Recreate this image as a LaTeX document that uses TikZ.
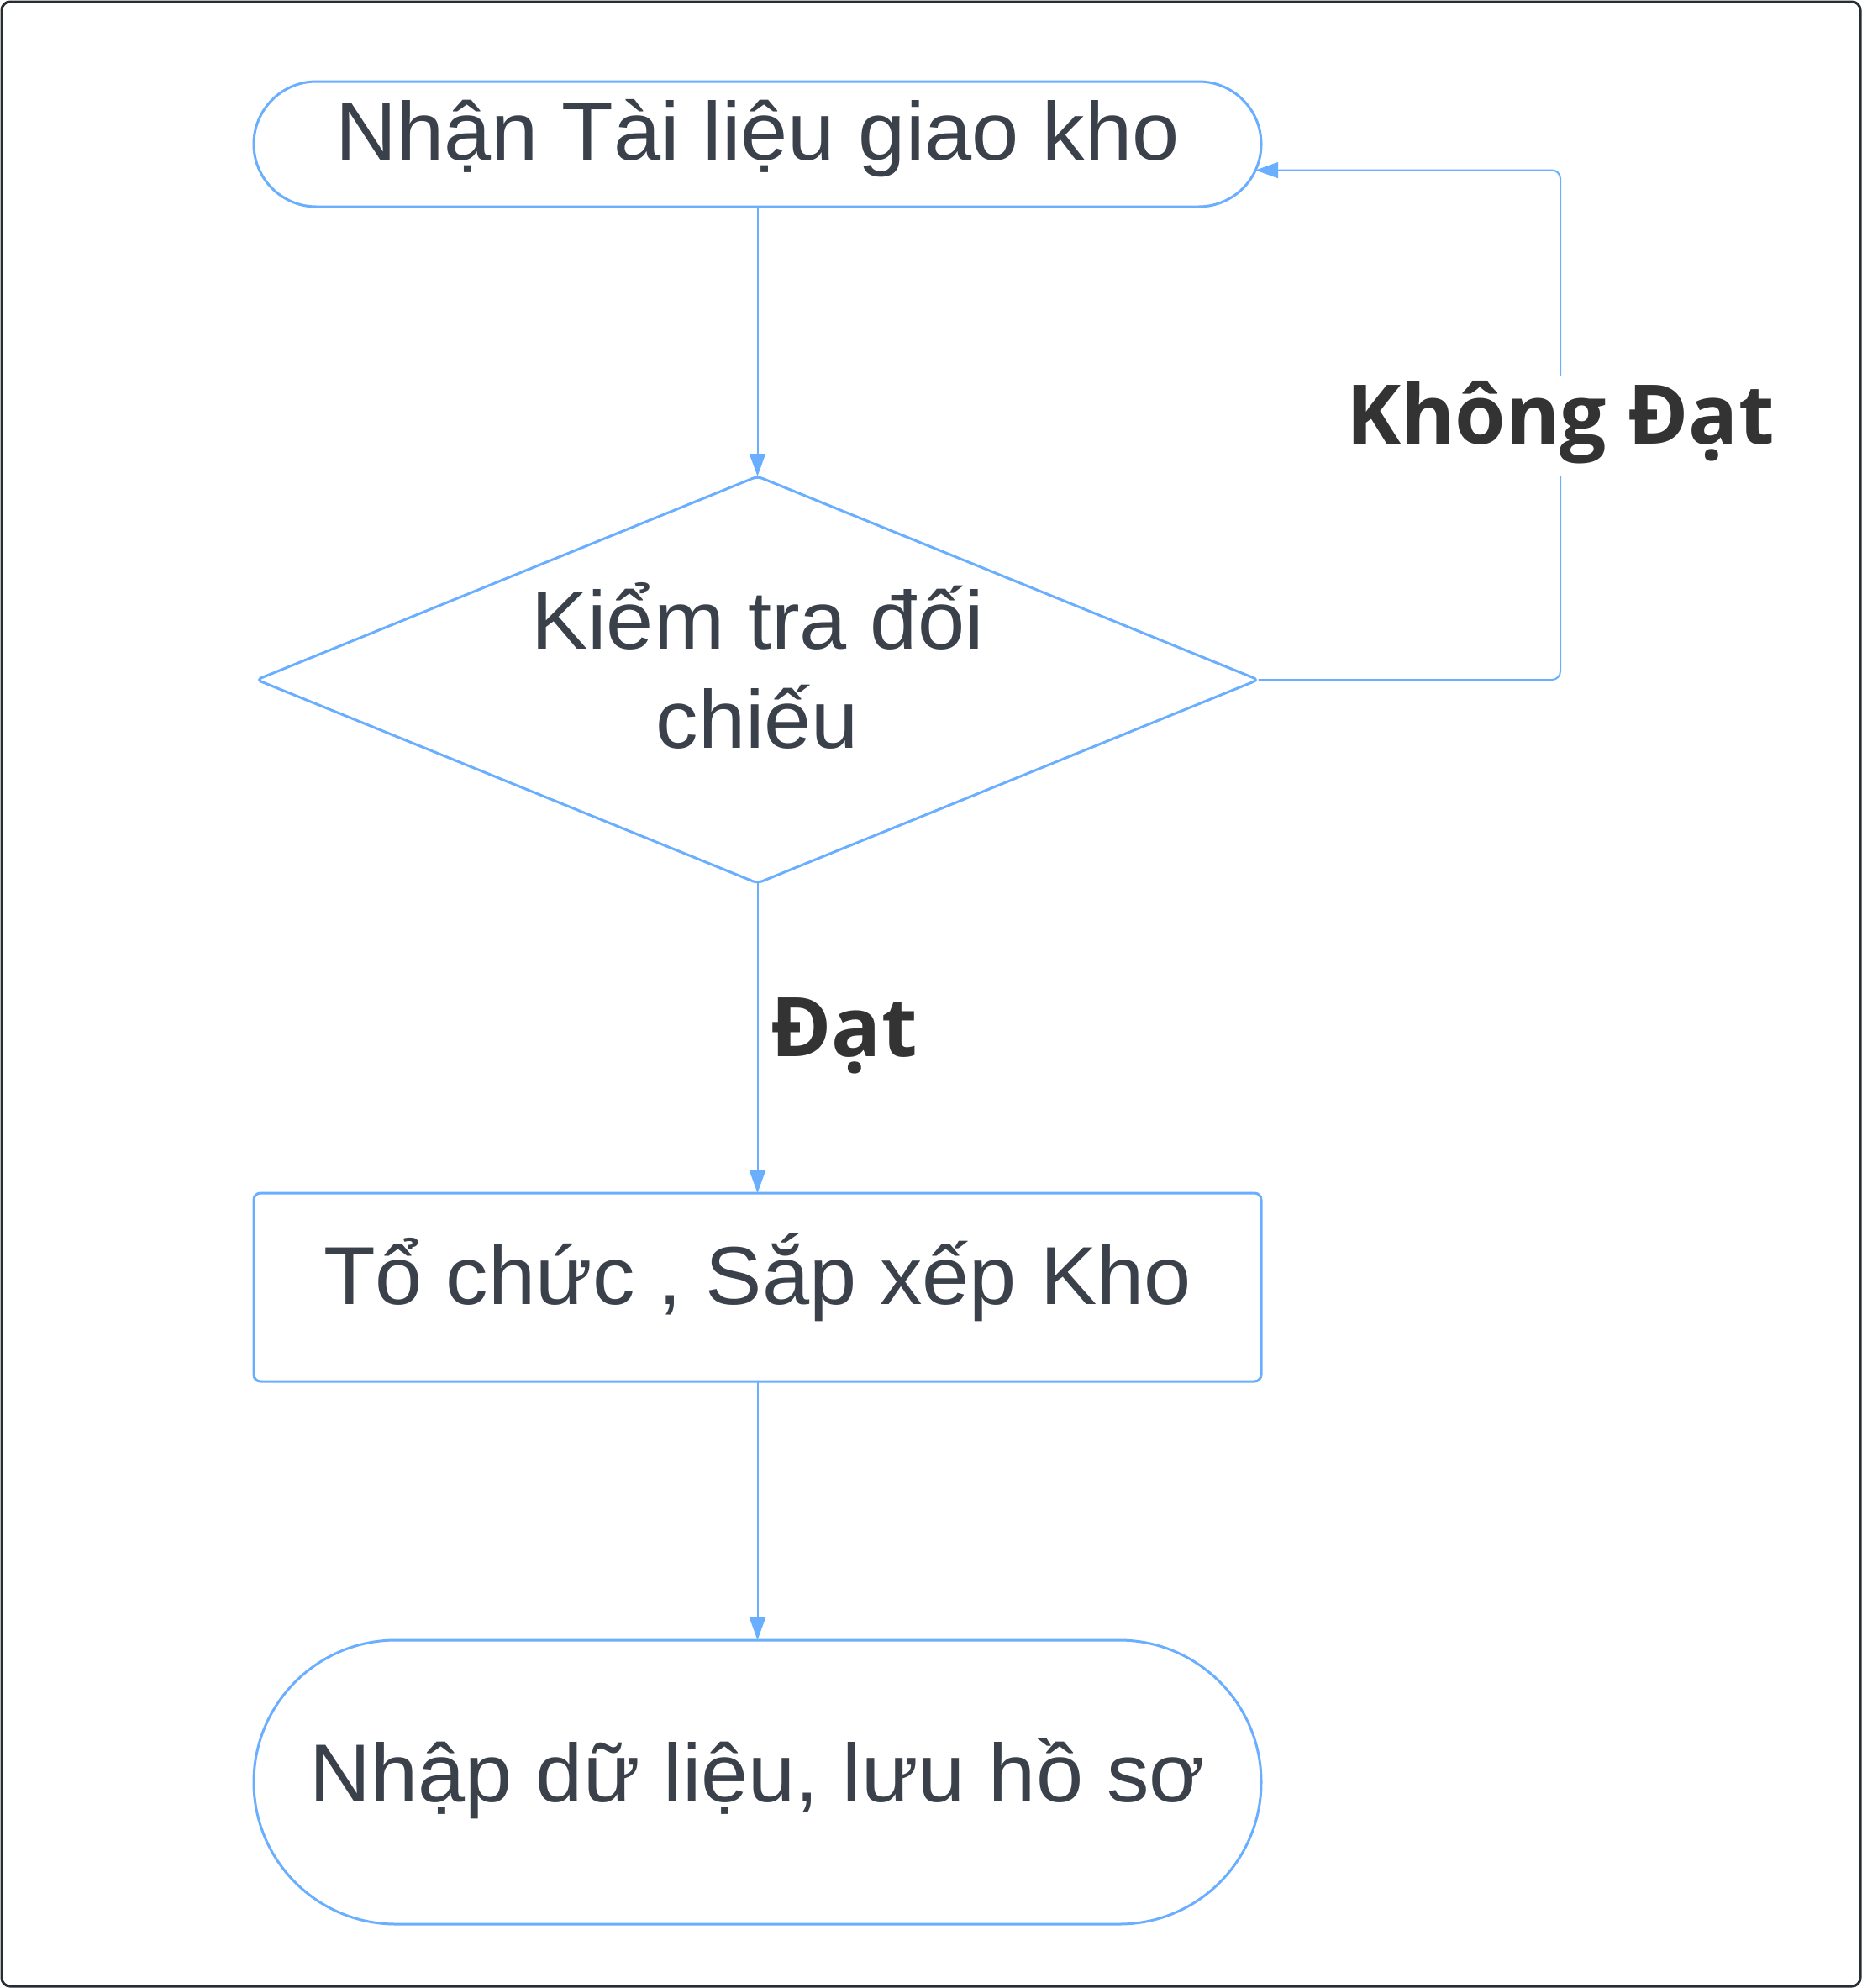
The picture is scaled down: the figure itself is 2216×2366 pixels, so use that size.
\documentclass[tikz,border=0pt]{standalone}
\usepackage{fontspec}
\setmainfont[FakeStretch=1.03]{Liberation Sans}
\newfontfamily\lblfont{Open Sans}
\usetikzlibrary{shapes.geometric,shapes.misc,arrows.meta}
\definecolor{edgeclr}{HTML}{6AAEFF}
\definecolor{txtclr}{HTML}{3A414A}
\definecolor{lblclr}{HTML}{333333}
\definecolor{frameclr}{HTML}{282C33}
\begin{document}
\begin{tikzpicture}[x=0.5pt,y=-0.5pt,
  shapebox/.style={draw=edgeclr,line width=1.5pt,fill=white,text=txtclr,font=\fontsize{49}{58.75}\selectfont,inner sep=0pt,outer sep=0pt,minimum width=599.5pt},
  term/.style={shapebox,rounded rectangle},
  proc/.style={shapebox,rectangle,rounded corners=4pt},
  decis/.style={shapebox,diamond,rounded corners=3pt,minimum width=596pt,minimum height=242pt},
  dtext/.style={text=txtclr,font=\fontsize{49}{58.75}\selectfont,inner sep=0pt,align=center},
  conn/.style={draw=edgeclr,line width=1pt,-{Triangle[length=13.5pt,width=9.5pt]}},
  elabel/.style={text=lblclr,font=\lblfont\bfseries\fontsize{49}{58}\selectfont,inner sep=0pt}
]
\useasboundingbox (0,0) rectangle (2216,2366);
\draw[frameclr,line width=1.5pt,rounded corners=5pt] (2,2) rectangle (2214,2364);

\node[term,minimum height=74.5pt,text height=30pt,text depth=11.5pt] (n1) at (901.5,171.5) {Nhận Tài liệu giao kho};
\node[decis] (d) at (901.5,809) {};
\node[dtext] (dt) at (901.5,792.5) {Kiểm tra đối\\chiếu};
\node[proc,minimum height=112pt,text height=35pt,text depth=15pt] (p) at (901.5,1532) {Tổ chức , Sắp xếp Kho};
\node[term,minimum height=169pt,text height=35pt,text depth=12pt] (n2) at (901.5,2121) {Nhập dữ liệu, lưu hồ sơ};

\draw[conn] (n1.south) -- (d.north);
\draw[conn] (d.south) -- (p.north);
\draw[conn] (p.south) -- (n2.north);
\coordinate (lp) at (1857,809);
\draw[conn,rounded corners=5pt] (d.east) -- (lp) |- (n1.-3.9);

\node[elabel,fill=white,text height=40pt,text depth=19.5pt] (l1) at (1857,507.5) {Không Đạt};
\node[elabel,anchor=base west] (l2) at (917,1257) {Đạt};
\end{tikzpicture}
\end{document}
